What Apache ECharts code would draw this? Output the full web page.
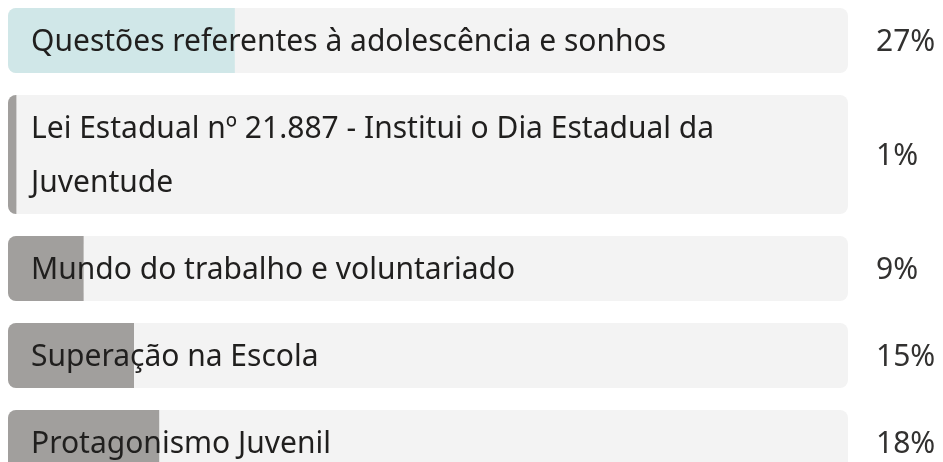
<!DOCTYPE html>
<html>
<head>
<meta charset="utf-8">
<script src="https://cdn.jsdelivr.net/npm/echarts@6/dist/echarts.min.js"></script>
<style>
  html, body { margin: 0; padding: 0; background: #fff; }
  #chart { width: 943px; height: 462px; }
</style>
</head>
<body>
<div id="chart"></div>
<script>
// poll answers and share of votes (%)
const categories = [
  'Questões referentes à adolescência e sonhos',
  'Lei Estadual nº 21.887 - Institui o Dia Estadual da Juventude',
  'Mundo do trabalho e voluntariado',
  'Superação na Escola',
  'Protagonismo Juvenil'
];
const values = [27, 1, 9, 15, 18];
const pctLabels = ['27%', '1%', '9%', '15%', '18%'];

const FONT = 'Noto Sans';
const FONT_SIZE = 30;
const TOP = 8;        // first row top
const ROW_H = 65;     // single-line row height
const LINE_H = 54;    // extra height per wrapped line
const GAP = 22;       // gap between rows
const TEXT_PAD = 23;  // label inset inside the track
const LABEL_W = 760;  // wrap width for answer text

// count wrapped lines so rows can grow like the original list
const ctx = document.createElement('canvas').getContext('2d');
ctx.font = FONT_SIZE + 'px "' + FONT + '"';
function lineCount(txt) {
  let lines = 1, cur = '';
  txt.split(' ').forEach(function (w) {
    const test = cur ? cur + ' ' + w : w;
    if (cur && ctx.measureText(test).width > LABEL_W) { lines++; cur = w; }
    else cur = test;
  });
  return lines;
}
const rowTops = [];
const rowHeights = [];
let y = TOP;
categories.forEach(function (c) {
  const h = ROW_H + (lineCount(c) - 1) * LINE_H;
  rowTops.push(y);
  rowHeights.push(h);
  y += h + GAP;
});

const chart = echarts.init(document.getElementById('chart'));
chart.setOption({
  animation: false,
  grid: { left: 8, right: 95, top: 0, bottom: 0 },
  xAxis: { type: 'value', min: 0, max: 100, show: false },
  yAxis: { type: 'category', data: categories, show: false, inverse: true },
  series: [{
    type: 'custom',
    data: values.map(function (v, i) { return [v, i]; }),
    renderItem: function (params, api) {
      const i = params.dataIndex;
      const x0 = api.coord([0, i])[0];
      const x1 = api.coord([api.value(0), i])[0];
      const xEnd = api.coord([100, i])[0];
      const top = rowTops[i], h = rowHeights[i];
      const mid = top + h / 2 + 2;
      return {
        type: 'group',
        children: [
          { type: 'rect', shape: { x: x0, y: top, width: xEnd - x0, height: h, r: 8 },
            style: { fill: '#f3f3f3' } },
          { type: 'rect', shape: { x: x0, y: top, width: x1 - x0, height: h, r: [8, 0, 0, 8] },
            style: { fill: i === 0 ? '#d0e7e8' : '#a19f9d' } },
          { type: 'text', x: x0 + TEXT_PAD, y: mid,
            style: { text: categories[i], font: FONT_SIZE + 'px "' + FONT + '"', fill: '#201f1e',
              width: LABEL_W, overflow: 'break', lineHeight: LINE_H, verticalAlign: 'middle', align: 'left' } },
          { type: 'text', x: xEnd + 28, y: mid,
            style: { text: pctLabels[i], font: FONT_SIZE + 'px "' + FONT + '"', fill: '#323130',
              verticalAlign: 'middle', align: 'left' } }
        ]
      };
    }
  }]
});
</script>
</body>
</html>
